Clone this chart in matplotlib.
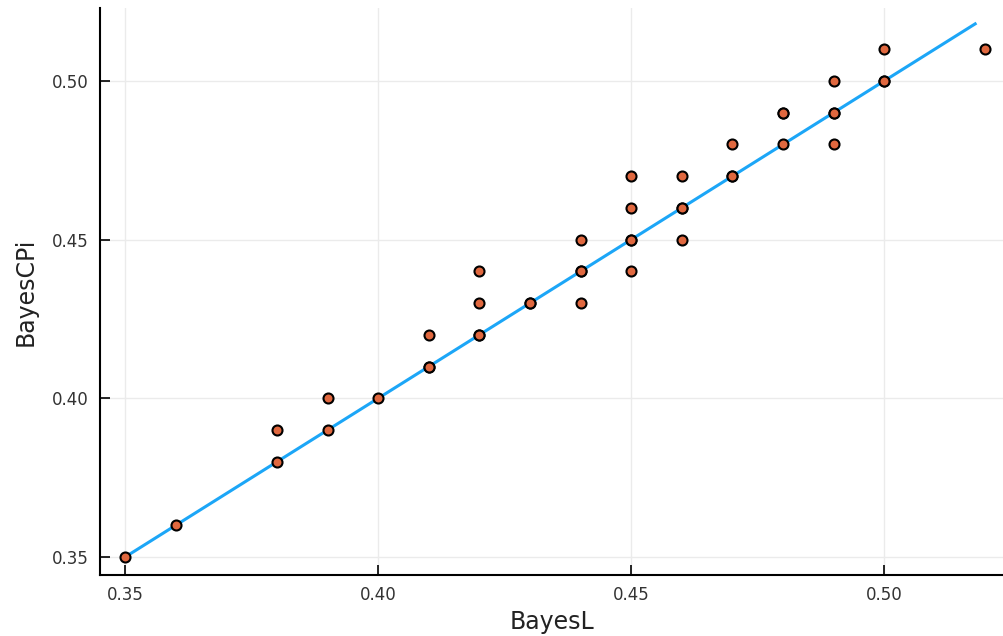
import numpy as np
import matplotlib.pyplot as plt

# BayesL vs BayesCPi estimates (repeated pairs are listed twice)
bayes_l = [0.35, 0.36, 0.38, 0.38, 0.39, 0.39, 0.40, 0.41, 0.41, 0.41,
           0.42, 0.42, 0.42, 0.42, 0.43, 0.43, 0.44, 0.44, 0.44, 0.44,
           0.45, 0.45, 0.45, 0.45, 0.45, 0.46, 0.46, 0.46, 0.46, 0.47,
           0.47, 0.47, 0.48, 0.48, 0.48, 0.49, 0.49, 0.49, 0.49, 0.50,
           0.50, 0.50, 0.52]
bayes_cpi = [0.35, 0.36, 0.39, 0.38, 0.40, 0.39, 0.40, 0.42, 0.41, 0.41,
             0.44, 0.43, 0.42, 0.42, 0.43, 0.43, 0.45, 0.44, 0.44, 0.43,
             0.47, 0.46, 0.45, 0.45, 0.44, 0.47, 0.46, 0.46, 0.45, 0.48,
             0.47, 0.47, 0.49, 0.49, 0.48, 0.50, 0.49, 0.49, 0.48, 0.51,
             0.50, 0.50, 0.51]

# identity line y = x
line_x = [0.35, 0.518]

xticks = [0.35, 0.40, 0.45, 0.50]
yticks = [0.35, 0.40, 0.45, 0.50]

fig = plt.figure(figsize=(10.04, 6.36), dpi=100)
ax = fig.add_axes([100 / 1004, 1 - 575 / 636, 904 / 1004, 567 / 636])

ax.plot(line_x, line_x, color="#1ca6f7", lw=2.2, zorder=2)
ax.scatter(bayes_l, bayes_cpi, s=52, color="#e0683f", edgecolors="black",
           linewidths=1.5, zorder=3)

ax.set_xlim(0.345, 0.5237)
ax.set_ylim(0.3443, 0.523)
ax.set_xticks(xticks)
ax.set_yticks(yticks)
ax.set_xticklabels([f"{t:.2f}" for t in xticks])
ax.set_yticklabels([f"{t:.2f}" for t in yticks])

ax.grid(True, color="#ebebeb", lw=1)
ax.set_axisbelow(True)
for side in ["top", "right"]:
    ax.spines[side].set_visible(False)
for side in ["left", "bottom"]:
    ax.spines[side].set_linewidth(1.5)
ax.tick_params(direction="in", length=7, width=1.2, labelsize=12,
               labelcolor="#333333", pad=8)

ax.set_xlabel("BayesL", fontsize=17, color="#222222", labelpad=4)
ax.set_ylabel("BayesCPi", fontsize=17, color="#222222", labelpad=10)

fig.savefig("out.png", dpi=100)
